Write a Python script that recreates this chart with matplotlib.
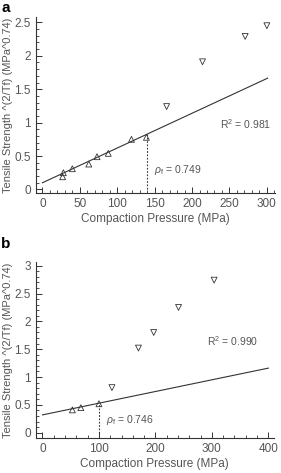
import numpy as np
import matplotlib
matplotlib.use('Agg')
import matplotlib.pyplot as plt
from matplotlib.ticker import MultipleLocator

plt.rcParams['font.family'] = ['Liberation Sans', 'DejaVu Sans']
plt.rcParams['mathtext.fontset'] = 'custom'
plt.rcParams['mathtext.rm'] = 'Liberation Sans'
plt.rcParams['mathtext.it'] = 'Liberation Sans:italic'

# panel a
a_up_x = [27, 28, 40, 62, 73, 88, 119, 139]
a_up_y = [0.19, 0.25, 0.31, 0.38, 0.49, 0.54, 0.75, 0.78]
a_dn_x = [166, 214, 271, 300]
a_dn_y = [1.24, 1.91, 2.29, 2.45]
a_fit = [0.10, 0.0052]   # intercept, slope
a_fit_x = [0, 301]
a_pf_x = 139.5
a_r2 = 'R$^2$ = 0.981'
a_pf = r'$\rho_\mathrm{f}$ = 0.749'

# panel b
b_up_x = [53, 68, 100]
b_up_y = [0.41, 0.45, 0.52]
b_dn_x = [123, 170, 197, 241, 304]
b_dn_y = [0.81, 1.52, 1.80, 2.25, 2.74]
b_fit = [0.32, 0.0021]
b_fit_x = [0, 400]
b_pf_x = 100
b_r2 = 'R$^2$ = 0.990'
b_pf = r'$\rho_\mathrm{f}$ = 0.746'

ylab = 'Tensile Strength ^(2/Tf) (MPa^0.74)'
xlab = 'Compaction Pressure (MPa)'
grey = '#555555'

fig = plt.figure(figsize=(2.81, 4.73), dpi=100)
ax1 = fig.add_axes([0.127, 0.591, 0.852, 0.373])
ax2 = fig.add_axes([0.127, 0.0734, 0.848, 0.372])


def panel(ax, upx, upy, dnx, dny, fit, fitx, pfx, r2, pf, xlim, ylim,
          xmaj, xmin, r2pos, pfpos):
    fx = np.array(fitx, dtype=float)
    ax.plot(fx, fit[0] + fit[1] * fx, color='#333333', lw=0.8)
    ax.plot([pfx, pfx], [0, fit[0] + fit[1] * pfx], color='#333333',
            lw=0.8, ls=(0, (1.5, 1.5)))
    ax.scatter(upx, upy, marker='^', s=18, facecolors='none',
               edgecolors='#333333', linewidths=0.6, zorder=3)
    ax.scatter(dnx, dny, marker='v', s=18, facecolors='none',
               edgecolors='#333333', linewidths=0.6, zorder=3)
    ax.text(r2pos[0], r2pos[1], r2, fontsize=7.5, color=grey)
    ax.text(pfpos[0], pfpos[1], pf, fontsize=7.5, color=grey)
    ax.set_xlim(*xlim)
    ax.set_ylim(*ylim)
    ax.xaxis.set_major_locator(MultipleLocator(xmaj))
    ax.xaxis.set_minor_locator(MultipleLocator(xmin))
    ax.yaxis.set_major_locator(MultipleLocator(0.5))
    ax.yaxis.set_minor_locator(MultipleLocator(0.1))
    ax.tick_params(which='both', direction='in', colors='#333333',
                   labelcolor=grey, labelsize=8.5)
    ax.tick_params(which='major', length=4, width=0.7)
    ax.tick_params(which='minor', length=2, width=0.6)
    for s in ['top', 'right']:
        ax.spines[s].set_visible(False)
    for s in ['left', 'bottom']:
        ax.spines[s].set_color('#333333')
        ax.spines[s].set_linewidth(0.8)
    ax.set_xlabel(xlab, fontsize=8.5, color=grey, labelpad=2)
    ax.set_ylabel(ylab, fontsize=8, color=grey, labelpad=1)
    ax.set_yticklabels([('%g' % t) for t in ax.get_yticks()])


panel(ax1, a_up_x, a_up_y, a_dn_x, a_dn_y, a_fit, a_fit_x, a_pf_x,
      a_r2, a_pf, (-9, 311), (-0.06, 2.58), 50, 10, (237, 0.9), (149, 0.24))
panel(ax2, b_up_x, b_up_y, b_dn_x, b_dn_y, b_fit, b_fit_x, b_pf_x,
      b_r2, b_pf, (-12, 410), (-0.1, 3.06), 100, 20, (292, 1.55), (112, 0.17))

fig.text(0.005, 0.998, 'a', fontsize=11, fontweight='bold', va='top')
fig.text(0.005, 0.5, 'b', fontsize=11, fontweight='bold', va='top')

fig.savefig('out.png', dpi=100)
